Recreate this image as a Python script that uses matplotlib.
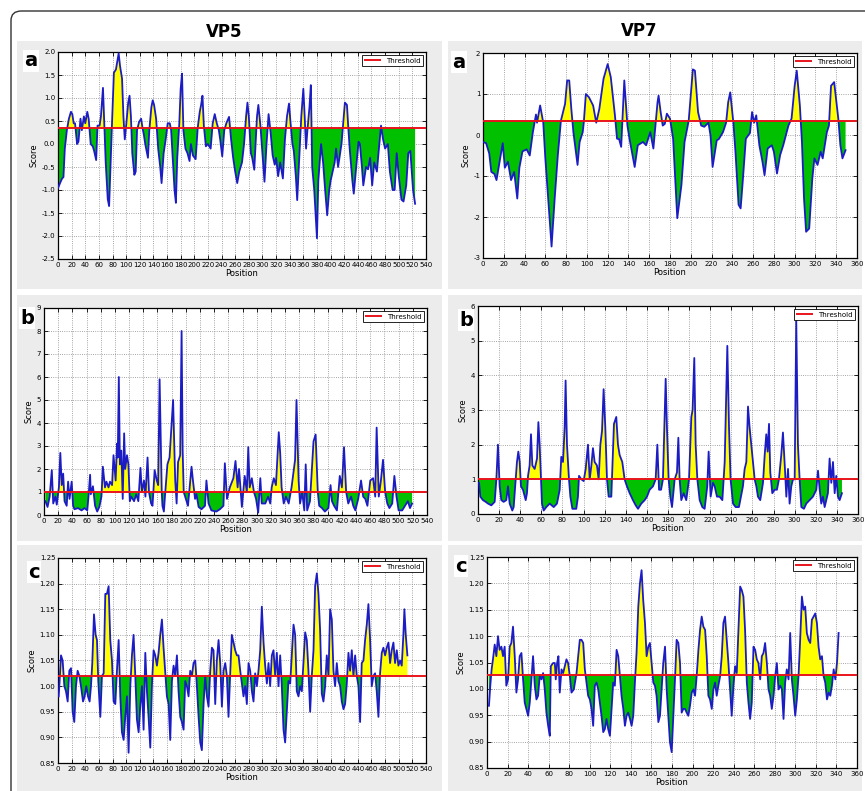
import matplotlib
matplotlib.use("Agg")
import matplotlib.pyplot as plt
from matplotlib.patches import Rectangle, FancyBboxPatch
import numpy as np

W, H = 865, 791

# ---- VP5 (a) ----
vp5_a_pos = [0, 3, 6, 8, 10, 13, 16, 19, 21, 23,
             25, 28, 30, 33, 35, 38, 40, 43, 45, 48,
             51, 53, 56, 58, 61, 63, 66, 68, 70, 73,
             75, 77, 79, 82, 85, 89, 91, 94, 96, 98,
             100, 103, 105, 107, 109, 112, 114, 116, 119, 122,
             124, 126, 128, 132, 134, 137, 139, 141, 144, 147,
             150, 152, 155, 158, 161, 164, 166, 169, 171, 173,
             175, 178, 180, 182, 184, 187, 190, 193, 195, 198,
             202, 205, 208, 210, 212, 214, 217, 220, 224, 227,
             230, 233, 236, 238, 241, 244, 247, 251, 254, 257,
             260, 263, 266, 270, 273, 276, 278, 280, 283, 285,
             288, 290, 292, 294, 297, 300, 303, 306, 309, 312,
             315, 318, 320, 323, 326, 330, 333, 336, 339, 341,
             344, 346, 349, 351, 354, 357, 360, 362, 364, 366,
             369, 371, 373, 376, 380, 382, 386, 389, 392, 395,
             398, 400, 403, 406, 408, 411, 416, 418, 421, 424,
             426, 428, 432, 434, 437, 441, 443, 446, 448, 452,
             455, 458, 461, 464, 468, 470, 474, 477, 480, 484,
             487, 491, 494, 497, 500, 504, 507, 511, 514, 517,
             521, 524]
vp5_a_score = [-0.96, -0.85, -0.75, -0.72, -0.1, 0.3, 0.55, 0.7, 0.65, 0.45,
               0.45, 0.0, 0.05, 0.55, 0.3, 0.6, 0.45, 0.7, 0.55, 0.0,
               -0.05, -0.15, -0.35, 0.4, 0.4, 0.6, 1.22, 0.4, -0.4, -1.2,
               -1.35, -0.5, 0.35, 1.55, 1.62, 1.97, 1.7, 1.42, 0.6, 0.1,
               0.4, 0.9, 1.05, 0.6, -0.2, -0.67, -0.6, 0.3, 0.48, 0.55,
               0.35, 0.2, 0.0, -0.3, 0.3, 0.8, 0.95, 0.85, 0.55, -0.1,
               -0.5, -0.85, -0.2, 0.1, 0.45, 0.45, 0.3, -0.5, -1.0, -1.28,
               -0.3, 0.45, 1.2, 1.53, 0.3, -0.1, -0.2, -0.37, 0.0, -0.25,
               -0.33, 0.35, 0.7, 0.85, 1.05, 0.4, -0.05, 0.0, -0.1, 0.45,
               0.65, 0.45, 0.3, 0.1, -0.27, 0.3, 0.45, 0.59, 0.1, -0.3,
               -0.6, -0.85, -0.6, -0.4, 0.0, 0.6, 0.9, 0.6, -0.2, -0.3,
               -0.56, 0.0, 0.6, 0.85, 0.4, -0.2, -0.82, 0.0, 0.65, 0.25,
               -0.25, -0.45, -0.3, -0.7, -0.4, -0.75, 0.1, 0.6, 0.88, 0.5,
               0.0, -0.15, -0.7, -1.22, -0.3, 0.6, 1.2, 0.6, -0.1, 0.3,
               0.8, 1.28, -0.5, -1.0, -2.05, -0.8, 0.0, -0.4, -1.0, -1.55,
               -1.0, -0.8, -0.6, -0.4, -0.1, -0.5, 0.0, 0.35, 0.9, 0.85,
               0.35, -0.1, -0.8, -1.08, -0.6, 0.05, 0.0, -0.5, -0.9, -0.5,
               -0.55, -0.3, -0.9, -0.4, -0.6, -0.25, 0.4, 0.1, -0.1, 0.0,
               -0.6, -1.0, -1.0, -0.2, -0.7, -1.21, -1.25, -0.9, -0.2, -0.15,
               -1.0, -1.3]

# ---- VP7 (a) ----
vp7_a_pos = [0, 3, 6, 8, 11, 13, 16, 19, 21, 24,
             27, 30, 33, 35, 38, 42, 45, 48, 51, 52,
             55, 58, 60, 66, 69, 72, 75, 79, 81, 83,
             85, 87, 91, 93, 96, 97, 99, 102, 106, 109,
             112, 116, 120, 123, 127, 129, 131, 133, 136, 139,
             141, 146, 149, 154, 157, 161, 164, 168, 169, 171,
             173, 175, 177, 180, 183, 187, 191, 194, 198, 202,
             204, 207, 210, 213, 217, 219, 221, 225, 227, 231,
             234, 236, 238, 241, 243, 246, 248, 250, 253, 257,
             259, 261, 263, 266, 269, 271, 274, 278, 280, 283,
             286, 289, 294, 297, 300, 302, 305, 307, 309, 311,
             314, 317, 319, 322, 325, 327, 331, 333, 335, 338,
             342, 344, 346, 349]
vp7_a_score = [-0.17, -0.2, -0.45, -0.9, -0.95, -1.1, -0.65, -0.2, -0.8, -0.65,
               -1.1, -0.9, -1.55, -0.8, -0.4, -0.35, -0.5, 0.07, 0.5, 0.3,
               0.72, 0.3, -0.57, -2.72, -1.55, -0.5, 0.35, 0.76, 1.33, 1.33,
               0.64, 0.07, -0.73, -0.17, 0.07, 0.3, 1.0, 0.92, 0.72, 0.3,
               0.64, 1.37, 1.73, 1.41, 0.48, -0.09, -0.1, -0.29, 1.33, 0.23,
               -0.09, -0.78, -0.25, -0.17, -0.25, 0.07, -0.33, 0.8, 0.96, 0.56,
               0.23, 0.27, 0.52, 0.4, -0.09, -2.03, -1.22, -0.17, 0.35, 1.6,
               1.57, 0.56, 0.23, 0.2, 0.3, -0.01, -0.78, -0.13, -0.1, 0.07,
               0.3, 0.8, 1.04, 0.3, -0.41, -1.7, -1.79, -1.14, -0.09, 0.05,
               0.56, 0.3, 0.48, -0.25, -0.65, -0.98, -0.33, -0.25, -0.41, -0.94,
               -0.49, -0.25, 0.23, 0.4, 1.2, 1.57, 0.72, -0.17, -1.55, -2.36,
               -2.28, -1.06, -0.57, -0.73, -0.41, -0.57, 0.07, 0.23, 1.2, 1.29,
               0.4, -0.25, -0.57, -0.37]

# ---- VP5 (b) ----
vp5_b_pos = [2, 5, 8, 11, 13, 16, 18, 21, 23, 25,
             27, 29, 32, 34, 36, 39, 41, 43, 48, 53,
             57, 61, 63, 65, 66, 69, 72, 75, 78, 81,
             83, 86, 88, 91, 93, 96, 98, 101, 103, 104,
             105.5, 107, 109, 111, 113, 114.5, 117, 119, 121, 123,
             127, 130, 133, 136, 138, 141, 143, 146, 148, 151,
             153, 156, 159, 161, 163, 166, 167, 169, 171, 174,
             177, 182, 185, 187, 189, 192, 194, 195.5, 197, 200,
             203, 208, 210, 213, 215, 218, 222, 227, 229, 232,
             236, 243, 248, 253, 255, 258, 262, 267, 270, 273,
             275, 279, 283, 286, 288, 290, 293, 296, 299, 302,
             305, 307, 312, 316, 319, 321, 324, 327, 331, 333,
             335, 338, 341, 345, 349, 354, 356, 359, 361, 364,
             367, 369, 371, 375, 380, 383, 386, 388, 392, 396,
             401, 404, 406, 409, 413, 417, 420, 423, 426, 429,
             433, 436, 439, 443, 447, 450, 453, 456, 460, 464,
             467, 469, 472, 475, 478, 481, 484, 487, 491, 494,
             497, 500, 505, 509, 513, 516, 519]
vp5_b_score = [0.6, 0.35, 0.8, 1.95, 0.5, 0.8, 0.45, 1.2, 2.7, 1.3,
               1.8, 0.6, 0.4, 1.45, 0.7, 1.45, 0.4, 0.25, 0.3, 0.2,
               0.3, 0.2, 0.9, 1.75, 0.9, 1.25, 0.4, 0.15, 0.35, 0.8,
               2.1, 1.2, 1.45, 1.2, 1.45, 1.3, 2.6, 1.5, 3.1, 2.5,
               6.0, 2.2, 2.8, 0.7, 3.55, 2.0, 2.6, 2.2, 0.6, 0.8,
               0.6, 0.9, 0.6, 2.05, 1.0, 1.5, 0.8, 2.5, 1.0, 0.5,
               0.4, 1.95, 1.5, 1.3, 5.9, 1.0, 0.4, 0.15, 1.0, 2.2,
               2.5, 5.0, 1.5, 0.5, 2.3, 2.6, 8.0, 2.8, 1.0, 0.7,
               0.4, 2.1, 1.5, 0.7, 0.9, 0.35, 0.25, 0.4, 1.5, 0.5,
               0.2, 0.15, 0.25, 0.4, 2.25, 0.7, 1.2, 1.6, 2.35, 1.2,
               2.0, 0.35, 1.7, 1.0, 2.95, 1.2, 1.6, 1.0, 0.7, 0.1,
               1.6, 0.5, 0.5, 0.8, 0.5, 1.2, 1.6, 1.3, 3.6, 2.7,
               1.2, 0.5, 0.8, 0.5, 1.2, 2.4, 5.0, 1.5, 0.5, 1.0,
               0.2, 2.2, 0.2, 0.6, 3.2, 3.5, 1.0, 0.4, 0.3, 0.15,
               0.3, 1.3, 0.6, 0.4, 0.2, 1.7, 1.2, 2.95, 1.0, 0.5,
               0.8, 0.4, 0.2, 0.7, 1.5, 0.8, 0.7, 0.4, 1.5, 1.6,
               0.8, 3.8, 0.8, 1.5, 2.4, 1.0, 0.5, 0.3, 0.5, 1.7,
               0.8, 0.2, 0.2, 0.4, 0.6, 0.3, 0.5]

# ---- VP7 (b) ----
vp7_b_pos = [1, 2.2, 4.7, 7.3, 9.5, 12.6, 15.8, 17.4, 18.9, 20.5,
             22.1, 24.3, 26.8, 28.4, 30, 32.5, 33.8, 35.7, 36.9, 38.2,
             39.5, 40.7, 42.6, 45.2, 46.4, 47.4, 48.9, 50.2, 51.5, 53.7,
             55.9, 57.2, 58.4, 59.7, 60.6, 62.2, 64.7, 67.9, 71.7, 74.8,
             77.4, 78.9, 80.5, 82.1, 83, 84.3, 86.2, 87.5, 89.4, 93.1,
             94.7, 95.7, 97.9, 100.1, 102, 104.2, 105.8, 107.4, 108.9, 110.5,
             112.7, 114.3, 115.9, 117.5, 119, 120.6, 122.2, 123.8, 126.3, 128.8,
             131, 132.6, 134.2, 136.7, 138.9, 141.1, 143.7, 146.8, 149.4, 151.6,
             154.7, 157.9, 160.1, 162.6, 165.8, 168.3, 169.9, 171.5, 173.4, 175.2,
             176.5, 177.8, 179, 180.6, 182.2, 183.8, 186.3, 188.5, 189.8, 191,
             192.6, 194.8, 197.3, 199.9, 202.1, 203.3, 204.9, 206.2, 207.8, 210,
             212.5, 214.7, 217.2, 218.5, 220.4, 222.6, 224.2, 226.4, 228.9, 231.5,
             233.7, 236.2, 237.8, 239.3, 241.6, 244.1, 247.2, 251, 252.6, 254.2,
             255.8, 257.3, 258.9, 260.5, 262.1, 263.7, 265.2, 267.4, 270, 271.6,
             273.1, 274.4, 275.7, 276.9, 278.8, 281, 283.2, 285.1, 287.3, 288.9,
             290.8, 292.1, 293.7, 295.2, 296.8, 298.4, 300, 301.5, 303.1, 304.7,
             306.3, 308.8, 311, 314.2, 317.3, 320.5, 322.1, 323.7, 325.2, 326.8,
             328.4, 330, 331.5, 333.1, 334.7, 336.3, 337.9, 339.4, 341, 342.6,
             344.8]
vp7_b_score = [0.9, 0.5, 0.4, 0.35, 0.3, 0.25, 0.35, 1.0, 2.0, 0.8,
               0.4, 0.35, 0.4, 0.8, 0.3, 0.1, 0.2, 1.0, 1.5, 1.8,
               1.5, 0.8, 0.7, 0.4, 0.6, 1.1, 1.4, 2.3, 1.4, 1.3,
               1.6, 2.65, 2.0, 1.0, 0.3, 0.1, 0.2, 0.3, 0.2, 0.3,
               0.7, 1.65, 1.5, 2.5, 3.85, 2.0, 1.0, 0.5, 0.15, 0.15,
               0.5, 1.1, 1.0, 0.95, 1.3, 2.0, 1.0, 1.4, 1.9, 1.5,
               1.4, 1.0, 2.0, 2.4, 3.6, 2.5, 1.0, 0.5, 0.5, 2.6,
               2.8, 2.0, 1.7, 1.5, 1.0, 0.8, 0.6, 0.4, 0.25, 0.15,
               0.3, 0.4, 0.5, 0.7, 0.8, 1.0, 2.0, 0.7, 0.7, 1.0,
               2.5, 3.9, 2.5, 1.0, 0.5, 0.2, 1.0, 1.2, 2.2, 1.0,
               0.4, 0.6, 0.4, 1.0, 2.8, 3.0, 4.5, 2.0, 1.0, 0.4,
               0.2, 0.15, 0.8, 1.8, 0.5, 0.9, 0.8, 0.5, 0.5, 0.4,
               1.5, 4.85, 2.5, 1.0, 0.3, 0.2, 0.2, 0.8, 1.3, 1.5,
               3.1, 2.5, 2.0, 1.5, 1.0, 0.8, 0.5, 0.4, 0.9, 1.7,
               2.3, 1.8, 2.6, 1.2, 0.6, 0.7, 0.7, 1.0, 1.7, 2.35,
               1.3, 0.5, 1.3, 0.3, 0.8, 1.0, 1.0, 5.6, 2.0, 1.0,
               0.2, 0.15, 0.3, 0.4, 0.5, 0.7, 1.25, 0.7, 0.3, 0.5,
               0.2, 0.4, 0.6, 1.6, 0.9, 1.5, 0.6, 1.1, 0.5, 0.4,
               0.6]

# ---- VP5 (c) ----
vp5_c_pos = [1, 2.4, 4.4, 6.8, 9.3, 11.7, 14.2, 16.6, 19.1, 21.5,
             23.9, 26.4, 28.8, 31.3, 33.7, 36.7, 39.1, 41.5, 44, 46.4,
             48.4, 50.3, 52.8, 55.2, 57.2, 59.1, 62.1, 64.5, 67, 69.4,
             71.8, 74.3, 76.7, 79.2, 81.6, 84.1, 86.5, 89, 91.4, 93.8,
             96.3, 98.7, 101.2, 103.6, 106.1, 108.5, 110.9, 113.4, 115.8, 118.3,
             120.7, 123.2, 125.6, 128.1, 130.5, 132.9, 135.4, 137.8, 140.3, 142.7,
             145.2, 147.6, 150, 152.5, 154.9, 157.4, 159.8, 162.3, 164.7, 167.2,
             169.6, 172, 174.5, 176.9, 179.4, 181.8, 184.3, 186.7, 189.1, 191.6,
             194, 196.5, 198.9, 201.4, 203.8, 206.3, 208.7, 211.1, 213.6, 216,
             218.5, 220.9, 223.4, 225.8, 228.2, 230.7, 233.1, 235.6, 238, 240.5,
             242.9, 245.4, 247.8, 250.2, 252.7, 255.1, 257.6, 260, 262.5, 264.9,
             267.4, 269.8, 272.2, 274.7, 277.1, 279.6, 282, 284.5, 286.9, 289.3,
             291.8, 294.2, 296.7, 299.1, 301.6, 304, 306.5, 308.9, 311.3, 313.8,
             316.2, 318.7, 321.1, 323.6, 326, 328.4, 330.9, 333.3, 335.8, 338.2,
             340.7, 343.1, 345.6, 348, 350.4, 352.9, 355.3, 357.8, 360.2, 362.7,
             365.1, 367.5, 370, 372.4, 374.9, 377.3, 379.8, 382.2, 384.6, 387.1,
             389.5, 392, 394.4, 396.9, 399.3, 401.8, 404.2, 406.6, 409.1, 411.5,
             414, 416.4, 418.9, 421.3, 423.8, 426.2, 428.6, 431.1, 433.5, 436,
             438.4, 440.9, 443.3, 445.7, 448.2, 450.6, 453.1, 455.5, 458, 460.4,
             462.9, 465.3, 467.7, 470.2, 472.6, 475.1, 477.5, 480, 482.4, 484.9,
             487.3, 489.7, 492.2, 494.6, 497.1, 499.5, 502, 504.4, 506.8, 508.3,
             510.3, 512.7]
vp5_c_score = [0.98, 1.01, 1.06, 1.05, 1.0, 0.99, 0.97, 1.03, 1.035, 0.95,
               0.93, 1.0, 1.03, 1.02, 1.0, 0.97, 0.98, 1.0, 0.98, 0.97,
               1.0, 1.045, 1.14, 1.1, 1.09, 1.01, 0.94, 1.02, 1.025, 1.18,
               1.18, 1.195, 1.09, 1.05, 0.97, 0.965, 1.03, 1.09, 0.98, 0.91,
               0.895, 0.94, 0.98, 0.87, 1.0, 1.06, 1.1, 1.02, 0.935, 0.91,
               0.96, 1.0, 0.915, 1.065, 0.99, 0.94, 0.88, 1.0, 1.07, 1.06,
               1.04, 1.065, 1.1, 1.13, 1.075, 1.025, 0.98, 0.965, 0.895, 1.01,
               1.04, 1.02, 1.06, 0.99, 0.94, 0.93, 0.915, 1.01, 1.0, 0.98,
               1.03, 1.02, 1.045, 1.05, 1.0, 0.94, 0.89, 0.875, 0.965, 1.02,
               0.98, 0.96, 1.03, 1.075, 1.07, 0.965, 1.05, 1.09, 1.045, 0.96,
               1.03, 1.045, 1.02, 0.94, 1.025, 1.1, 1.085, 1.07, 1.06, 1.06,
               1.03, 1.005, 0.98, 1.0, 0.965, 1.045, 1.03, 0.99, 0.97, 1.025,
               1.0, 1.03, 1.07, 1.155, 1.085, 1.04, 1.005, 1.045, 1.0, 1.06,
               1.07, 1.02, 1.065, 1.0, 1.06, 1.0, 0.915, 0.89, 0.95, 1.01,
               1.005, 1.06, 1.12, 1.1, 0.99, 0.98, 1.0, 0.99, 1.045, 1.105,
               1.09, 1.03, 0.95, 1.02, 1.07, 1.195, 1.22, 1.18, 1.11, 0.985,
               0.97, 1.0, 1.06, 1.02, 1.15, 1.13, 1.03, 1.0, 1.045, 1.01,
               1.0, 0.97, 0.955, 0.965, 1.005, 1.065, 1.03, 1.07, 1.02, 1.06,
               1.02, 1.0, 0.93, 1.045, 1.05, 1.09, 1.12, 1.16, 1.09, 1.0,
               1.02, 1.025, 0.99, 0.94, 1.025, 1.065, 1.075, 1.06, 1.075, 1.085,
               1.045, 1.07, 1.085, 1.045, 1.07, 1.04, 1.05, 1.04, 1.1, 1.15,
               1.1, 1.06]

# ---- VP7 (c) ----
vp7_c_pos = [1.9, 3.2, 4.5, 5.8, 7.5, 9.1, 10.7, 12.3, 14, 15.6,
             17.2, 18.8, 20.5, 22.1, 23.7, 25.3, 27, 28.6, 30.2, 31.8,
             33.5, 35.1, 36.7, 38.3, 40, 41.6, 43.2, 44.8, 46.5, 48.1,
             49.7, 51.3, 53, 54.6, 56.2, 57.8, 59.5, 61.1, 62.1, 64.3,
             66, 66.9, 68.2, 69.5, 70.8, 72.5, 74.1, 75.7, 77.3, 78.9,
             80.6, 82.2, 84.5, 87.1, 88.7, 90.3, 91.9, 93.6, 95.2, 96.8,
             98.4, 100.1, 101.7, 103.3, 104.9, 106.6, 108.2, 109.8, 111.4, 113.1,
             114.7, 116.3, 117.9, 119.6, 121.2, 122.8, 124.4, 126.1, 127.7, 129.3,
             130.9, 132.6, 134.2, 135.8, 137.4, 139.1, 140.7, 142.3, 143.9, 145.5,
             147.2, 148.8, 150.4, 152, 153.7, 155.3, 156.9, 158.5, 160.2, 161.8,
             163.4, 165, 166.7, 168.3, 169.9, 171.5, 173.2, 174.8, 176.4, 178,
             179.7, 181.3, 182.9, 184.5, 186.2, 187.8, 189.4, 191, 192.7, 194.3,
             195.9, 197.5, 199.2, 200.8, 202.4, 204, 205.7, 207.3, 208.9, 210.5,
             212.2, 213.8, 215.4, 217, 218.7, 220.3, 221.9, 223.5, 225.1, 226.8,
             228.4, 230, 231.6, 233.3, 234.9, 236.5, 238.1, 239.8, 241.4, 243,
             244.6, 246.3, 247.9, 249.5, 251.1, 252.8, 254.4, 256, 257.6, 259.3,
             260.9, 262.5, 264.1, 265.8, 267.4, 269, 270.6, 272.3, 273.9, 275.5,
             277.1, 278.8, 280.4, 282, 283.6, 285.3, 286.9, 288.5, 290.1, 291.7,
             293.4, 295, 296.6, 298.2, 299.9, 301.5, 303.1, 304.7, 306.4, 308,
             309.6, 311.2, 312.9, 314.5, 316.1, 317.7, 319.4, 321, 322.6, 324.2,
             325.9, 327.5, 329.1, 330.8, 332.4, 334, 335.6, 337.3, 338.9, 340.5,
             342.1]
vp7_c_score = [0.968, 1.006, 1.037, 1.056, 1.084, 1.062, 1.1, 1.074, 1.08, 1.062,
               1.08, 1.006, 1.018, 1.08, 1.087, 1.118, 1.062, 0.993, 1.018, 1.062,
               1.068, 1.018, 0.974, 0.962, 0.949, 0.974, 1.018, 1.062, 1.006, 0.98,
               0.987, 1.024, 1.018, 1.03, 0.999, 0.955, 0.93, 0.911, 1.043, 1.049,
               1.049, 1.018, 1.049, 1.062, 0.993, 1.037, 1.03, 1.043, 1.056, 1.049,
               1.024, 0.993, 0.999, 1.03, 1.062, 1.093, 1.093, 1.087, 1.037, 1.012,
               0.987, 0.98, 0.962, 0.93, 1.006, 1.012, 0.999, 0.974, 0.949, 0.918,
               0.924, 0.943, 0.924, 0.911, 0.962, 1.012, 1.006, 1.074, 1.062, 1.024,
               0.987, 0.962, 0.93, 0.949, 0.955, 0.943, 0.93, 0.949, 1.012, 1.068,
               1.156, 1.2, 1.225, 1.168, 1.125, 1.062, 1.08, 1.087, 1.049, 1.012,
               1.006, 0.987, 0.937, 0.949, 0.999, 1.049, 1.08, 0.999, 0.949, 0.899,
               0.88, 0.949, 1.018, 1.093, 1.087, 1.049, 0.955, 0.962, 0.962, 0.955,
               0.949, 0.968, 0.993, 0.999, 0.987, 1.024, 1.074, 1.112, 1.137, 1.118,
               1.112, 1.062, 0.987, 0.98, 0.962, 0.999, 1.012, 0.987, 1.006, 1.024,
               1.062, 1.125, 1.137, 1.093, 1.049, 0.999, 0.949, 1.006, 1.043, 1.03,
               1.112, 1.194, 1.187, 1.175, 1.112, 1.012, 0.974, 0.943, 0.974, 1.08,
               1.074, 1.056, 1.049, 1.018, 1.062, 1.068, 1.087, 1.049, 0.999, 0.987,
               0.962, 0.987, 1.024, 1.049, 0.999, 1.006, 0.999, 0.943, 1.012, 1.037,
               1.018, 1.106, 1.018, 0.987, 0.949, 0.98, 1.024, 1.093, 1.175, 1.15,
               1.156, 1.106, 1.093, 1.087, 1.131, 1.137, 1.143, 1.125, 1.08, 1.056,
               1.062, 1.024, 1.012, 0.98, 0.993, 0.987, 1.006, 1.037, 1.018, 1.049,
               1.106]

thresholds = {'vp5_a': 0.35, 'vp7_a': 0.35, 'vp5_b': 1.0, 'vp7_b': 1.0,
              'vp5_c': 1.02, 'vp7_c': 1.027}


def px_rect(left, top, right, bottom):
    # pixel box -> figure fraction [x, y, w, h]
    return [left / W, 1 - bottom / H, (right - left) / W, (bottom - top) / H]


def draw_panel(rect, pos, score, thr, xmax, yticks, yfmt):
    ax = fig.add_axes(px_rect(*rect))
    pos = np.array(pos, dtype=float)
    score = np.array(score, dtype=float)
    ax.fill_between(pos, score, thr, where=score >= thr, interpolate=True,
                    color='#ffff00', lw=0)
    ax.fill_between(pos, score, thr, where=score <= thr, interpolate=True,
                    color='#00c000', lw=0)
    ax.plot(pos, score, color='#1c1cc4', lw=1.3, zorder=3)
    ax.axhline(thr, color='#e8141c', lw=1.4, label='Threshold', zorder=4)
    ax.set_xlim(0, xmax)
    ax.set_ylim(yticks[0], yticks[-1])
    ax.set_xticks(np.arange(0, xmax + 1, 20))
    ax.set_yticks(yticks)
    ax.set_yticklabels([yfmt % v for v in yticks])
    ax.tick_params(direction='in', top=True, right=True, length=3, width=0.6,
                   labelsize=5, pad=2)
    ax.grid(True, linestyle=':', color='#888888', lw=0.6)
    ax.set_axisbelow(True)
    for s in ax.spines.values():
        s.set_linewidth(0.9)
    ax.set_xlabel('Position', fontsize=6, labelpad=1)
    ax.set_ylabel('Score', fontsize=6, labelpad=2)
    leg = ax.legend(loc='upper right', fontsize=5, handlelength=2.2,
                    fancybox=False, borderaxespad=0.4, framealpha=1)
    leg.get_frame().set_edgecolor('black')
    leg.get_frame().set_linewidth(0.6)
    return ax


fig = plt.figure(figsize=(W / 100, H / 100), dpi=100)

# outer rounded border
border = FancyBboxPatch((11 / W, -0.05), 1.2, 1 - 11 / H + 0.05,
                        boxstyle='round,pad=0,rounding_size=0.012',
                        transform=fig.transFigure, fill=False,
                        edgecolor='#333333', lw=1.0, zorder=-10)
fig.patches.append(border)

# gray panel backgrounds
for (l, t, r, b) in [(17, 41, 442, 289), (448, 41, 862, 289),
                     (17, 295, 442, 541), (448, 295, 862, 541),
                     (17, 545, 442, 791), (448, 545, 862, 791)]:
    fig.patches.append(Rectangle((l / W, 1 - b / H), (r - l) / W, (b - t) / H,
                                 transform=fig.transFigure, color='#ececec',
                                 lw=0, zorder=-10))

fig.text(224 / W, 1 - 32 / H, 'VP5', fontsize=12, fontweight='bold',
         ha='center', va='center')
fig.text(639 / W, 1 - 31 / H, 'VP7', fontsize=12, fontweight='bold',
         ha='center', va='center')

draw_panel((58, 52, 426, 259), vp5_a_pos, vp5_a_score, thresholds['vp5_a'],
           540, np.arange(-2.5, 2.01, 0.5), '%.1f')
draw_panel((483, 53, 857, 258), vp7_a_pos, vp7_a_score, thresholds['vp7_a'],
           360, np.arange(-3, 2.01, 1), '%d')
draw_panel((44, 308, 427, 515), vp5_b_pos, vp5_b_score, thresholds['vp5_b'],
           540, np.arange(0, 9.01, 1), '%d')
draw_panel((478, 306, 858, 514), vp7_b_pos, vp7_b_score, thresholds['vp7_b'],
           360, np.arange(0, 6.01, 1), '%d')
draw_panel((58, 558, 426, 763), vp5_c_pos, vp5_c_score, thresholds['vp5_c'],
           540, np.arange(0.85, 1.2501, 0.05), '%.2f')
draw_panel((487, 557, 857, 768), vp7_c_pos, vp7_c_score, thresholds['vp7_c'],
           360, np.arange(0.85, 1.2501, 0.05), '%.2f')

# panel letters (drawn before tick labels would overlap, so keep boxes tight)
for (x, y, s) in [(31, 61, 'a'), (459, 62, 'a'), (27, 318, 'b'),
                  (466, 320, 'b'), (34, 572, 'c'), (461, 566, 'c')]:
    fig.text(x / W, 1 - y / H, s, fontsize=14, fontweight='bold',
             ha='center', va='center', zorder=-5,
             bbox=dict(facecolor='white', edgecolor='none', pad=0.8))

fig.savefig('out.png', dpi=100)
